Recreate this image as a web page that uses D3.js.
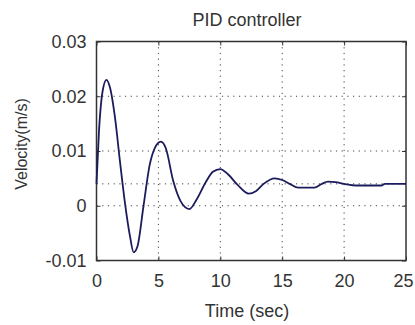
<!DOCTYPE html>
<html>
<head>
<meta charset="utf-8">
<script src="https://cdn.jsdelivr.net/npm/d3@7"></script>
<style>
  body { margin: 0; background: #fff; }
  text { font-family: "Liberation Sans", Arial, sans-serif; fill: #333; }
</style>
</head>
<body>
<script>
// step response
const time = [0, 0.2, 0.5, 0.8, 1.1, 1.5, 1.9, 2.3, 2.7, 3.0, 3.3, 3.8, 4.3, 4.7, 5.2, 5.6, 6.2, 6.8, 7.5, 8.1,
  8.8, 9.4, 10.0, 10.6, 11.4, 12.3, 12.9, 13.5, 14.4, 15.0, 15.6, 16.3, 17.6, 18.2, 18.7, 19.3, 20.0, 21.0, 23.0, 23.3, 25];
const velocity = [0.004, 0.0136, 0.021, 0.023, 0.0215, 0.016, 0.008, 0.0005, -0.0055, -0.0085, -0.0075, 0.0, 0.0075, 0.0105, 0.0117, 0.0105, 0.0045, 0.0008, -0.0006, 0.0012,
  0.0042, 0.0062, 0.0067, 0.0058, 0.0038, 0.0022, 0.0027, 0.004, 0.005, 0.0047, 0.004, 0.0033, 0.0033, 0.004, 0.0044, 0.0043, 0.004, 0.0037, 0.0037, 0.004, 0.004];
const xTicks = [0, 5, 10, 15, 20, 25];
const yTicks = [-0.01, 0, 0.01, 0.02, 0.03];
const refLevel = [0.004];

const width = 415, height = 325;
const margin = {top: 41.5, right: 9, bottom: 64.5, left: 96.5};

const svg = d3.select("body").append("svg")
  .attr("width", width)
  .attr("height", height);

const x = d3.scaleLinear().domain([0, 25]).range([margin.left, width - margin.right]);
const y = d3.scaleLinear().domain([-0.01, 0.03]).range([height - margin.bottom, margin.top]);

// dotted grid
const grid = svg.append("g")
  .attr("stroke", "#444")
  .attr("stroke-width", 1)
  .attr("stroke-dasharray", "1.2,4.5");

grid.selectAll(".vg")
  .data(xTicks.slice(1, -1))
  .join("line")
    .attr("x1", d => x(d)).attr("x2", d => x(d))
    .attr("y1", y(0.03)).attr("y2", y(-0.01));

grid.selectAll(".hg")
  .data(yTicks.slice(1, -1).concat(refLevel))
  .join("line")
    .attr("x1", x(0)).attr("x2", x(25))
    .attr("y1", d => y(d)).attr("y2", d => y(d));

// axes with inward ticks, matlab style (plain hyphen for negatives)
const fmt = d => d === 0 ? "0" : d.toFixed(2);

svg.append("g")
  .attr("transform", `translate(0,${y(-0.01)})`)
  .call(d3.axisBottom(x).tickValues(xTicks).tickSize(-4).tickPadding(14).tickFormat(d3.format("d")))
  .call(g => g.select(".domain").remove())
  .call(g => g.selectAll(".tick text").filter(d => d === 25).attr("dx", -3));

svg.append("g")
  .attr("transform", `translate(0,${y(0.03)})`)
  .call(d3.axisTop(x).tickValues(xTicks).tickSize(-4).tickFormat(""))
  .call(g => g.select(".domain").remove());

svg.append("g")
  .attr("transform", `translate(${x(0)},0)`)
  .call(d3.axisLeft(y).tickValues(yTicks).tickSize(-4).tickPadding(10).tickFormat(fmt))
  .call(g => g.select(".domain").remove());

svg.append("g")
  .attr("transform", `translate(${x(25)},0)`)
  .call(d3.axisRight(y).tickValues(yTicks).tickSize(-4).tickFormat(""))
  .call(g => g.select(".domain").remove());

svg.selectAll(".tick line").attr("stroke", "#333");
svg.selectAll(".tick text")
  .attr("font-size", 18)
  .attr("font-family", "Liberation Sans, Arial, sans-serif")
  .attr("fill", "#3a3a3a");

// box
svg.append("rect")
  .attr("x", x(0)).attr("y", y(0.03))
  .attr("width", x(25) - x(0)).attr("height", y(-0.01) - y(0.03))
  .attr("fill", "none")
  .attr("stroke", "#333")
  .attr("stroke-width", 1.5);

// response curve
const line = d3.line()
  .x((d, i) => x(time[i]))
  .y(d => y(d))
  .curve(d3.curveMonotoneX);

svg.append("path")
  .datum(velocity)
  .attr("fill", "none")
  .attr("stroke", "#1c1c5c")
  .attr("stroke-width", 1.8)
  .attr("d", line);

// labels
svg.append("text")
  .attr("x", 247).attr("y", 26)
  .attr("text-anchor", "middle")
  .attr("font-size", 18)
  .text("PID controller");

svg.append("text")
  .attr("x", 247).attr("y", 317)
  .attr("text-anchor", "middle")
  .attr("font-size", 18)
  .text("Time (sec)");

svg.append("text")
  .attr("transform", "translate(27,144) rotate(-90)")
  .attr("text-anchor", "middle")
  .attr("font-size", 16)
  .text("Velocity(m/s)");
</script>
</body>
</html>
